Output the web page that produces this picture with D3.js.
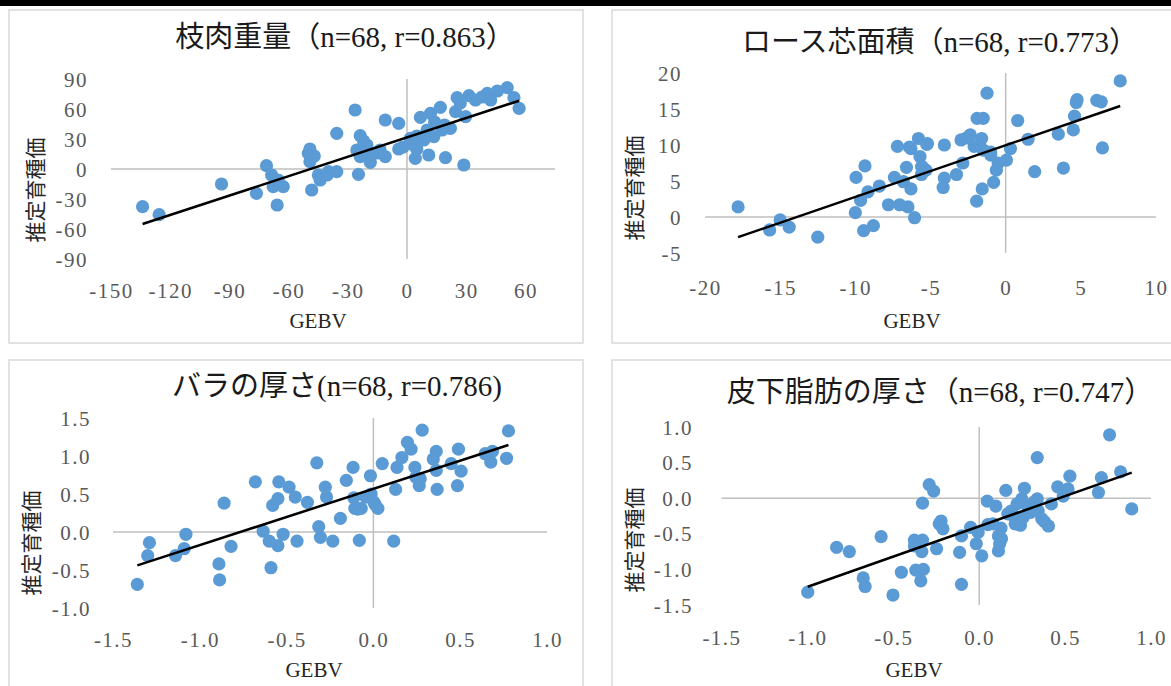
<!DOCTYPE html>
<html>
<head>
<meta charset="utf-8">
<script src="https://cdn.jsdelivr.net/npm/d3@7"></script>
<style>
  body { margin: 0; background: #fff; }
  text { font-family: "Liberation Serif", "Noto Sans CJK JP", serif; }
</style>
</head>
<body>
<div id="plot"></div>
<script>
// chart titles
const titles = [
  "枝肉重量（n=68, r=0.863）",
  "ロース芯面積（n=68, r=0.773）",
  "バラの厚さ(n=68, r=0.786)",
  "皮下脂肪の厚さ（n=68, r=0.747）",
];
const xLabel = "GEBV";
const yLabel = "推定育種価";

// tick values
const ticksCarcassX = [-150, -120, -90, -60, -30, 0, 30, 60];
const ticksCarcassY = [-90, -60, -30, 0, 30, 60, 90];
const ticksRibeyeX = [-20, -15, -10, -5, 0, 5, 10];
const ticksRibeyeY = [-5, 0, 5, 10, 15, 20];
const ticksRibX = [-1.5, -1.0, -0.5, 0.0, 0.5, 1.0];
const ticksRibY = [-1.0, -0.5, 0.0, 0.5, 1.0, 1.5];
const ticksFatX = [-1.5, -1.0, -0.5, 0.0, 0.5, 1.0];
const ticksFatY = [-1.5, -1.0, -0.5, 0.0, 0.5, 1.0];

// 枝肉重量
const carcassGebv = [-134, -125.6, -94, -76.3, -71.2, -68.6, -67.8, -65.3, -62.7, -65.8, -50, -49.2, -49.2, -48.3, -44.9, -44, -39.8, -35.6, -35.6, -26.3, -24.6, -23.7, -25.4, -23.7, -20.3, -19.5, -18.6, -13.6, -11, -11, -4.2, -4.2, 1.7, 4.2, 3.4, 6.8, 8.5, 11, 10.2, 11.9, 13.6, 16.9, 17.8, 19.5, 22, 24.6, 25.4, 28.8, 29.7, 31.4, 34.7, 40.7, 42.4, 45.8, 50.8, 54.2, 56.8, -40.5, -47, -22, -15, -2, 5, 5, 14, 19, 27, 38];
const carcassEbv = [-37.7, -45.7, -15, -24.3, 3.3, -6, -17.7, -11, -17.7, -36, 15.7, 20, 7.3, -21, -6, -11, -2.7, -2.7, 35.7, 59, -5.3, 33.3, 19, 12.3, 24, 14, 6.7, 19, 49, 12.3, 45.7, 20, 30.7, 10.7, 24, 51.7, 29, 14, 39, 55.7, 32.3, 61.7, 39, 11.3, 40.7, 57.3, 71.3, 4, 52.3, 73.3, 69, 75.7, 69, 78, 81.3, 71.3, 60.7, -6, 13, 28, 16, 22, 20, 33, 47, 44, 66, 72];

// ロース芯面積
const ribeyeGebv = [-17.8, -15.7, -15, -14.4, -12.5, -10, -9.95, -9.65, -9.45, -9.36, -9.16, -8.8, -8.4, -7.8, -7.4, -7.2, -7.05, -6.8, -6.6, -6.5, -6.4, -6.3, -6.06, -5.8, -5.7, -5.6, -5.6, -5.25, -5.3, -4.16, -4.08, -4.08, -3.27, -2.97, -2.85, -2.35, -2.1, -1.93, -1.9, -1.6, -1.49, -1.49, -1.56, -1.24, -0.99, -0.8, -0.62, -0.5, 0.05, 0.32, 0.8, 1.49, 1.93, 3.5, 3.84, 4.5, 4.58, 4.7, 4.75, 6.06, 6.36, 6.44, 7.62, -6.3, -5.2, -5.55, -1.0, -2.6];
const ribeyeEbv = [1.4, -1.8, -0.4, -1.4, -2.8, 0.6, 5.5, 2.3, -1.9, 7.1, 3.5, -1.2, 4.3, 1.7, 5.5, 9.8, 1.7, 4.9, 6.9, 1.4, 9.7, 3.9, -0.1, 10.9, 8.4, 7, 5.9, 10.1, 6.5, 4.1, 5.4, 10, 5.9, 10.7, 7.5, 11.4, 9.8, 2.2, 13.7, 10.9, 13.7, 9.3, 3.9, 17.2, 8.6, 4.8, 6.5, 7.5, 7.9, 9.5, 13.4, 10.8, 6.3, 11.5, 6.8, 12.1, 14, 15.9, 16.3, 16.2, 16, 9.6, 18.9, 9.5, 10.2, 7.0, 9.0, 11.0];

// バラの厚さ
const ribGebv = [-1.36, -1.29, -1.3, -1.14, -1.09, -1.08, -0.89, -0.886, -0.86, -0.82, -0.68, -0.635, -0.6, -0.59, -0.58, -0.55, -0.545, -0.55, -0.52, -0.486, -0.45, -0.44, -0.38, -0.326, -0.315, -0.305, -0.277, -0.27, -0.234, -0.19, -0.156, -0.117, -0.113, -0.107, -0.081, -0.07, -0.043, -0.017, -0.013, 0.004, 0.026, 0.051, 0.117, 0.128, 0.136, 0.164, 0.196, 0.217, 0.239, 0.245, 0.264, 0.281, 0.345, 0.362, 0.362, 0.367, 0.448, 0.484, 0.49, 0.505, 0.644, 0.676, 0.686, 0.767, 0.778, 0.01, -0.09, 0.27];
const ribEbv = [-0.69, -0.14, -0.31, -0.31, -0.22, -0.03, -0.42, -0.63, 0.38, -0.19, 0.66, 0.01, -0.12, -0.47, 0.35, 0.44, 0.66, -0.18, -0.03, 0.59, 0.46, -0.12, 0.39, 0.91, 0.07, -0.07, 0.59, 0.46, -0.12, 0.18, 0.68, 0.85, 0.45, 0.31, -0.11, 0.31, 0.46, 0.74, 0.5, 0.39, 0.31, 0.9, -0.12, 0.56, 0.85, 0.98, 1.18, 1.09, 0.85, 0.72, 0.61, 1.34, 0.96, 1.06, 0.81, 0.56, 0.9, 0.61, 1.09, 0.8, 1.03, 0.92, 1.06, 0.97, 1.33, 0.36, 0.3, 0.7];

// 皮下脂肪の厚さ
const fatGebv = [-0.998, -0.83, -0.756, -0.675, -0.664, -0.571, -0.502, -0.453, -0.377, -0.377, -0.369, -0.34, -0.33, -0.33, -0.334, -0.325, -0.291, -0.265, -0.248, -0.233, -0.222, -0.211, -0.114, -0.103, -0.103, -0.05, -0.017, -0.006, 0.015, 0.047, 0.097, 0.08, 0.112, 0.119, 0.112, 0.127, 0.155, 0.166, 0.187, 0.209, 0.22, 0.248, 0.263, 0.256, 0.284, 0.338, 0.338, 0.343, 0.364, 0.403, 0.42, 0.457, 0.489, 0.517, 0.528, 0.694, 0.711, 0.759, 0.823, 0.888, 0.2, 0.24, 0.3, 0.38, 0.13, -0.35, 0.05, 0.32];
const fatEbv = [-1.32, -0.69, -0.75, -1.12, -1.24, -0.54, -1.36, -1.04, -0.59, -0.67, -1.01, -1.16, -0.07, -0.59, -0.75, -1.0, 0.19, 0.1, -0.71, -0.36, -0.32, -0.43, -0.76, -1.21, -0.53, -0.41, -0.64, -0.48, -0.81, -0.04, -0.11, -0.36, -0.53, -0.64, -0.74, -0.42, 0.11, -0.22, -0.18, -0.36, -0.08, -0.01, 0.14, -0.27, -0.13, 0.57, -0.01, -0.18, -0.29, -0.39, -0.08, 0.16, 0.03, 0.13, 0.31, 0.08, 0.29, 0.89, 0.37, -0.15, -0.25, -0.38, -0.2, -0.33, -0.57, -0.62, -0.37, -0.05];

// trendline (slope, intercept)
const trendSlope = [0.646, 0.717, 0.741, 0.85];
const trendIntercept = [31.6, 9.96, 0.568, -0.395];

const width = 1171,
  height = 686;
const svg = d3.select("#plot").append("svg").attr("width", width).attr("height", height);

const locale = d3.formatLocale({ decimal: ".", thousands: ",", grouping: [3], currency: ["", ""], minus: "-" });

const panels = [
  { xs: carcassGebv, ys: carcassEbv, xt: ticksCarcassX, yt: ticksCarcassY, xd: [-150, 75], yd: [-90, 90], xr: [111, 555], yr: [259, 79], fmt: "d",
    frame: [9, 10, 574, 333], yTickX: 88, xTickY: 298, title: [345, 47], gebv: [318, 328], ylab: [35, 190] },
  { xs: ribeyeGebv, ys: ribeyeEbv, xt: ticksRibeyeX, yt: ticksRibeyeY, xd: [-20, 10], yd: [-5, 20], xr: [705, 1156], yr: [253, 73], fmt: "d",
    frame: [612, 10, 600, 333], yTickX: 682, xTickY: 295, title: [940, 52], gebv: [912, 328], ylab: [634, 188] },
  { xs: ribGebv, ys: ribEbv, xt: ticksRibX, yt: ticksRibY, xd: [-1.5, 1], yd: [-1, 1.5], xr: [113, 547], yr: [608, 418], fmt: ".1f",
    frame: [9, 360, 574, 400], yTickX: 91, xTickY: 647, title: [337, 396], gebv: [314, 677], ylab: [31, 543] },
  { xs: fatGebv, ys: fatEbv, xt: ticksFatX, yt: ticksFatY, xd: [-1.5, 1], yd: [-1.5, 1], xr: [721.5, 1151], yr: [605, 427], fmt: ".1f",
    frame: [612, 360, 600, 400], yTickX: 693, xTickY: 645, title: [940, 402], gebv: [914, 677], ylab: [634, 540] },
];

// top black strip
svg.append("rect").attr("x", 0).attr("y", 0).attr("width", width).attr("height", 6).attr("fill", "#000");

panels.forEach((p, i) => {
  const g = svg.append("g");
  const x = d3.scaleLinear().domain(p.xd).range(p.xr);
  const y = d3.scaleLinear().domain(p.yd).range(p.yr);
  const f = locale.format(p.fmt);

  g.append("rect")
    .attr("x", p.frame[0]).attr("y", p.frame[1])
    .attr("width", p.frame[2]).attr("height", p.frame[3])
    .attr("fill", "#fff").attr("stroke", "#d9d9d9").attr("stroke-width", 1.5);

  // zero lines
  g.append("line").attr("x1", x(p.xd[0])).attr("x2", x(p.xd[1])).attr("y1", y(0)).attr("y2", y(0))
    .attr("stroke", "#bfbfbf").attr("stroke-width", 1.5);
  g.append("line").attr("x1", x(0)).attr("x2", x(0)).attr("y1", y(p.yd[0])).attr("y2", y(p.yd[1]))
    .attr("stroke", "#bfbfbf").attr("stroke-width", 1.5);

  // axes (labels only)
  const xa = g.append("g").attr("transform", `translate(0,${p.xTickY})`)
    .call(d3.axisBottom(x).tickValues(p.xt).tickFormat(f).tickSize(0).tickPadding(0))
    .attr("font-family", null).attr("font-size", null);
  xa.select(".domain").remove();
  xa.selectAll("text").attr("y", 0).attr("dy", 0).attr("fill", "#595959")
    .style("font-size", "21px").style("letter-spacing", "1.5px");

  const ya = g.append("g").attr("transform", `translate(${p.yTickX},0)`)
    .call(d3.axisLeft(y).tickValues(p.yt).tickFormat(f).tickSize(0).tickPadding(0))
    .attr("font-family", null).attr("font-size", null);
  ya.select(".domain").remove();
  ya.selectAll("text").attr("x", 0).attr("dy", "0.34em").attr("fill", "#595959")
    .style("font-size", "21px").style("letter-spacing", "1.5px");

  // points
  g.append("g").selectAll("circle").data(p.xs.map((v, k) => [v, p.ys[k]])).join("circle")
    .attr("cx", d => x(d[0])).attr("cy", d => y(d[1])).attr("r", 6.6).attr("fill", "#5b9bd5");

  // trendline
  const ext = d3.extent(p.xs);
  g.append("line")
    .attr("x1", x(ext[0])).attr("y1", y(trendSlope[i] * ext[0] + trendIntercept[i]))
    .attr("x2", x(ext[1])).attr("y2", y(trendSlope[i] * ext[1] + trendIntercept[i]))
    .attr("stroke", "#000").attr("stroke-width", 2.5);

  g.append("text").attr("x", p.title[0]).attr("y", p.title[1]).attr("text-anchor", "middle")
    .attr("fill", "#1a1a1a").style("font-size", "29px").text(titles[i]);
  g.append("text").attr("x", p.gebv[0]).attr("y", p.gebv[1]).attr("text-anchor", "middle")
    .attr("fill", "#262626").style("font-size", "21px").text(xLabel);
  g.append("text").attr("transform", `translate(${p.ylab[0]},${p.ylab[1]}) rotate(-90)`)
    .attr("dy", "0.38em").attr("text-anchor", "middle")
    .attr("fill", "#262626").style("font-size", "21px").text(yLabel);
});
</script>
</body>
</html>
